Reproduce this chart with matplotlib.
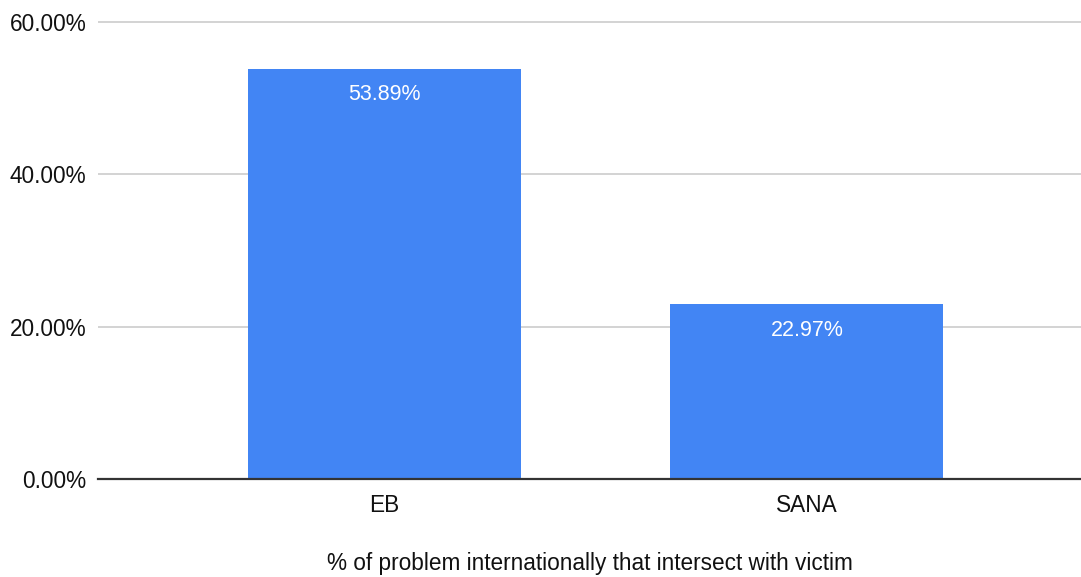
import matplotlib.pyplot as plt
from matplotlib.ticker import FuncFormatter

plt.rcParams['font.family'] = ['Liberation Sans', 'DejaVu Sans']

categories = ['EB', 'SANA']
values = [53.89, 22.97]
yticks = [0, 20, 40, 60]
xlabel = '% of problem internationally that intersect with victim'

W, H = 1081, 577
fig = plt.figure(figsize=(W / 100, H / 100), dpi=100)

# axes placed in pixel terms: y=0 at 479px, y=60 at 22px
left, right = 98, 1081
y0_px, y60_px = 479, 22
ymax = 61
top_px = y0_px - (y0_px - y60_px) * ymax / 60
ax = fig.add_axes([left / W, 1 - y0_px / H, (right - left) / W, (y0_px - top_px) / H])

x = list(range(len(categories)))
bars = ax.bar(x, values, width=0.646, color='#4285f4', zorder=3)

for b, v in zip(bars, values):
    ax.annotate(f'{v:.2f}%', (b.get_x() + b.get_width() / 2, v),
                xytext=(0, -26), textcoords='offset pixels',
                ha='center', va='center', color='white', fontsize=15.5, zorder=4)

ax.set_ylim(0, ymax)
ax.set_xlim(-0.678, 1.649)
ax.set_yticks(yticks)
ax.yaxis.set_major_formatter(FuncFormatter(lambda v, p: f'{v:.2f}%'))
ax.set_xticks(x)
ax.set_xticklabels(categories)
ax.tick_params(axis='both', length=0, labelsize=16.3, colors='#111111')
ax.tick_params(axis='y', pad=8.5)
ax.tick_params(axis='x', pad=11)

ax.grid(axis='y', color='#cccccc', linewidth=1.2, zorder=0)
for s in ['top', 'right', 'left']:
    ax.spines[s].set_visible(False)
ax.spines['bottom'].set_color('#333333')
ax.spines['bottom'].set_linewidth(1.6)
ax.spines['bottom'].set_zorder(5)

ax.set_xlabel(xlabel, fontsize=16.3, color='#111111', labelpad=25)

fig.savefig('out.png', dpi=100)
